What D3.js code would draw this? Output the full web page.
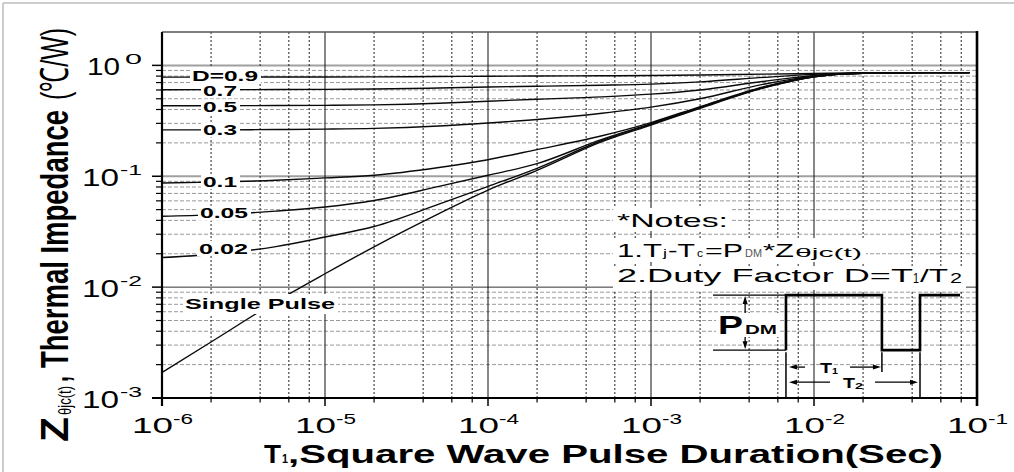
<!DOCTYPE html>
<html><head><meta charset="utf-8">
<script src="https://cdn.jsdelivr.net/npm/d3@7"></script>
<style>html,body{margin:0;padding:0;background:#fff;}svg{display:block;}</style>
</head><body>
<svg id="c" width="1014" height="472"></svg>
<script>
// ---- data ----
const pulseTimes = [1e-6,2e-6,5e-6,1e-5,2e-5,5e-5,1e-4,2e-4,5e-4,1e-3,2e-3,5e-3,1e-2,2e-2,5e-2,9e-2];
const zD09 = [0.784,0.784,0.785,0.786,0.788,0.793,0.798,0.802,0.806,0.810,0.818,0.834,0.845,0.856,0.860,0.860];
const zD07 = [0.603,0.604,0.605,0.607,0.612,0.625,0.638,0.648,0.662,0.678,0.710,0.780,0.830,0.856,0.860,0.860];
const zD05 = [0.432,0.433,0.434,0.436,0.440,0.455,0.475,0.495,0.520,0.550,0.600,0.720,0.810,0.855,0.860,0.860];
const zD03 = [0.262,0.262,0.264,0.266,0.270,0.284,0.302,0.325,0.370,0.420,0.500,0.680,0.800,0.855,0.860,0.860];
const zD01 = [0.0870,0.0885,0.0920,0.0966,0.102,0.120,0.141,0.174,0.232,0.305,0.425,0.645,0.795,0.850,0.860,0.860];
const zD005 = [0.0436,0.0448,0.0485,0.0528,0.0605,0.081,0.102,0.130,0.215,0.298,0.418,0.640,0.790,0.850,0.860,0.860];
const zD002 = [0.0185,0.0197,0.0232,0.0283,0.0352,0.056,0.081,0.118,0.210,0.295,0.415,0.635,0.790,0.850,0.860,0.860];
const zSingle = [0.0017,0.0032,0.0074,0.0132,0.0231,0.046,0.075,0.113,0.205,0.290,0.410,0.630,0.790,0.850,0.860,0.860];
const seriesNames = ["D=0.9","0.7","0.5","0.3","0.1","0.05","0.02","Single Pulse"];
const xMajorTicks = [1e-6,1e-5,1e-4,1e-3,1e-2,1e-1];
const xTickExp = ["-6","-5","-4","-3","-2","-1"];
const yMajorTicks = [1e-3,1e-2,1e-1,1];
const yTickExp = ["-3","-2","-1","0"];

const FONT = "'Liberation Sans', Arial, Helvetica, sans-serif";
const svg = d3.select("#c");
const x = d3.scaleLog().domain([1e-6, 1e-1]).range([162, 977]);
const y = d3.scaleLog().domain([1e-3, 2]).range([398, 32]);

// outer image frame (top & left visible)
svg.append("line").attr("x1",3).attr("x2",1014).attr("y1",3).attr("y2",3).attr("stroke","#bdbdbd").attr("stroke-width",1.5);
svg.append("line").attr("x1",3).attr("x2",3).attr("y1",3).attr("y2",472).attr("stroke","#bdbdbd").attr("stroke-width",1.5);

// minor tick values
const xMinor = [], yMinor = [];
xMajorTicks.slice(0,-1).forEach(d => [2,4,6,8].forEach(m => xMinor.push(d*m)));
yMajorTicks.slice(0,-1).forEach(d => [2,3,4,5,6,7,8,9].forEach(m => yMinor.push(d*m)));

const grid = svg.append("g");
grid.selectAll(".hm").data(yMinor).join("line")
  .attr("x1",162).attr("x2",977).attr("y1",d=>y(d)).attr("y2",d=>y(d))
  .attr("stroke","#9a9a9a").attr("stroke-width",1).attr("stroke-dasharray","4,2");
grid.selectAll(".hM").data([1e-2,1e-1,1]).join("line")
  .attr("x1",162).attr("x2",977).attr("y1",d=>y(d)).attr("y2",d=>y(d))
  .attr("stroke",d=>d===1e-2?"#333":"#a0a0a0").attr("stroke-width",d=>d===1e-2?1:2);
grid.selectAll(".vm").data(xMinor).join("line")
  .attr("x1",d=>x(d)).attr("x2",d=>x(d)).attr("y1",32).attr("y2",398)
  .attr("stroke","#222").attr("stroke-width",1).attr("stroke-dasharray","2,2");
grid.selectAll(".vM").data(xMajorTicks.slice(1,-1)).join("line")
  .attr("x1",d=>x(d)).attr("x2",d=>x(d)).attr("y1",32).attr("y2",398)
  .attr("stroke","#111").attr("stroke-width",1);

// curves
const allSeries = [zD09,zD07,zD05,zD03,zD01,zD005,zD002,zSingle];
const line = d3.line().x(d=>x(d[0])).y(d=>y(d[1])).curve(d3.curveMonotoneX);
svg.append("g").selectAll("path").data(allSeries).join("path")
  .attr("d", s => line(pulseTimes.map((t,i)=>[t,s[i]])))
  .attr("fill","none").attr("stroke","#0a0a0a").attr("stroke-width",1.4);

function txt(g, s, x0, x1, base, fs, weight, fill){
  return g.append("text").attr("x",x0).attr("y",base).text(s)
    .attr("font-family",FONT).attr("font-size",fs).attr("font-weight",weight||"normal")
    .attr("fill",fill||"#000")
    .attr("textLength",x1-x0).attr("lengthAdjust","spacingAndGlyphs");
}
function box(g,x0,y0,x1,y1){ g.append("rect").attr("x",x0).attr("y",y0).attr("width",x1-x0).attr("height",y1-y0).attr("fill","#fff"); }

// curve labels
const lab = svg.append("g");
const labPos = [[192,258,75.5],[203,237,90.7],[203,237,107],[203,237,130],[203,237,181.7],[200,248,213.3],[199,248,248.5],[185,335,304]];
labPos.forEach((p,i)=>{
  const pad = i===7 ? [2,10,10] : [2,7.5,7.5];
  box(lab, p[0]-pad[0], p[2]-pad[1], p[1]+3, p[2]+pad[2]);
  txt(lab, seriesNames[i], p[0], p[1], p[2]+5, i===7?15:14, "bold");
});

// notes
const nt = svg.append("g");
box(nt, 613, 208, 732, 231);
box(nt, 613, 238, 866, 262);
box(nt, 613, 266, 966, 290);
txt(nt,"*Notes:",617,728,227,19);
[["1.T",617,662,19],["j",663,667,11],["-T",668,695,19],["c",697,703,11],["=P",705,743,19],["DM",745,762,11,"#555"],["*Z",763,794,19],["θjc(t)",795,862,12]]
  .forEach(p=>txt(nt,p[0],p[1],p[2],257,p[3],"normal",p[4]));
[["2.Duty Factor D=T",617,913,19,282],["1",913,919,14,283],["/T",920,948,19,282],["2",950,962,14,283]]
  .forEach(p=>txt(nt,p[0],p[1],p[2],p[4],p[3]));

// pulse diagram (annotation positioned in data space)
const pT = {a:2.4e-3, arrow:3.78e-3, r1:6.73e-3, f1:0.0261, r2:0.0447, end:0.0787};
const pHi = 0.00847, pLo = 0.0027, t1Row = 0.0019, t2Row = 0.00139;
const pd = svg.append("g").attr("stroke","#000").attr("fill","none");
pd.append("line").attr("x1",x(pT.a)).attr("x2",x(pT.r1)).attr("y1",y(pHi)).attr("y2",y(pHi)).attr("stroke-width",1.2);
pd.append("line").attr("x1",x(pT.a)).attr("x2",x(pT.r1)).attr("y1",y(pLo)).attr("y2",y(pLo)).attr("stroke-width",1.2);
pd.append("path").attr("stroke-width",2.6).attr("d",
  `M${x(pT.r1)},${y(pLo)}V${y(pHi)}H${x(pT.f1)}V${y(pLo)}H${x(pT.r2)}V${y(pHi)}H${x(pT.end)}`);
pd.append("line").attr("x1",x(pT.r1)).attr("x2",x(pT.r1)).attr("y1",y(pLo)+2).attr("y2",398).attr("stroke-width",1.5);
pd.append("line").attr("x1",x(pT.f1)).attr("x2",x(pT.f1)).attr("y1",y(pLo)+2).attr("y2",y(t1Row)+5).attr("stroke-width",1.5);
pd.append("line").attr("x1",x(pT.r2)).attr("x2",x(pT.r2)).attr("y1",y(pLo)+2).attr("y2",398).attr("stroke-width",1.5);
function arrow(xs, xe, yy){
  const dir = Math.sign(xe-xs);
  pd.append("line").attr("x1",xs).attr("x2",xe-dir*6).attr("y1",yy).attr("y2",yy).attr("stroke-width",1.3);
  pd.append("path").attr("fill","#000").attr("stroke","none")
    .attr("d",`M${xe},${yy}L${xe-dir*8},${yy-2.5}L${xe-dir*8},${yy+2.5}Z`);
}
function varrow(yy0, yy1, xx){
  const dir = Math.sign(yy1-yy0);
  pd.append("line").attr("x1",xx).attr("x2",xx).attr("y1",yy0).attr("y2",yy1-dir*6).attr("stroke-width",1.3);
  pd.append("path").attr("fill","#000").attr("stroke","none")
    .attr("d",`M${xx},${yy1}L${xx-2.5},${yy1-dir*8}L${xx+2.5},${yy1-dir*8}Z`);
}
const xr1 = x(pT.r1)+3, xf1 = x(pT.f1)-1, xr2 = x(pT.r2)-2;
arrow(805, xr1, y(t1Row)); arrow(850, xf1, y(t1Row));
arrow(830, xr1, y(t2Row)); arrow(875, xr2, y(t2Row));
varrow(313, y(pHi)+1, x(pT.arrow)); varrow(337, y(pLo)-1, x(pT.arrow));
const pdt = svg.append("g");
box(pdt, 716, 313, 779, 337);
txt(pdt,"P",718,743,334,25,"bold");
txt(pdt,"DM",745,777,334,13,"bold");
txt(pdt,"T",820,832,373,14,"bold"); txt(pdt,"1",832,838,374,9,"bold");
txt(pdt,"T",843,855,388,14,"bold"); txt(pdt,"2",855,863,389,9,"bold");

// axes ticks
const ax = svg.append("g").attr("stroke","#000");
ax.selectAll(".yt").data(yMajorTicks).join("line").attr("x1",152).attr("x2",162).attr("y1",d=>y(d)).attr("y2",d=>y(d)).attr("stroke-width",1.5);
ax.selectAll(".ytm").data(yMinor).join("line").attr("x1",156).attr("x2",162).attr("y1",d=>y(d)).attr("y2",d=>y(d)).attr("stroke-width",1.2);
ax.selectAll(".xt").data(xMajorTicks).join("line").attr("x1",d=>x(d)).attr("x2",d=>x(d)).attr("y1",398).attr("y2",406).attr("stroke-width",1.5);
ax.selectAll(".xtm").data(xMinor).join("line").attr("x1",d=>x(d)).attr("x2",d=>x(d)).attr("y1",398).attr("y2",402.5).attr("stroke-width",1.2);
ax.append("line").attr("x1",162).attr("x2",977).attr("y1",32).attr("y2",32).attr("stroke","#555").attr("stroke-width",1.5);
ax.append("line").attr("x1",977).attr("x2",977).attr("y1",31).attr("y2",406).attr("stroke-width",2.6);
ax.append("line").attr("x1",162).attr("x2",162).attr("y1",32).attr("y2",406).attr("stroke-width",2.2);
ax.append("line").attr("x1",152).attr("x2",978).attr("y1",398).attr("y2",398).attr("stroke-width",2.2);

// tick labels
const tl = svg.append("g");
xMajorTicks.forEach((t,i)=>{
  const cx = x(t);
  txt(tl,"10",cx-30,cx+11,433,22);
  txt(tl,xTickExp[i],cx+11,cx+31,424,14);
});
yMajorTicks.forEach((t,i)=>{
  const cy = y(t);
  const one = yTickExp[i].length===1;
  txt(tl,"10", one?87:82, one?120:119, cy+10, 23);
  txt(tl,yTickExp[i], one?125:120, 142, cy-1.5, 14);
});

// axis titles
txt(tl,"T",264,281,463,26,"bold");
txt(tl,"1",282,288,463,13,"bold");
txt(tl,",Square Wave Pulse Duration(Sec)",288,943,463,26,"bold");
function rtxt(s, yb, yt, bx, fs, weight, sx){
  tl.append("text").attr("transform",`translate(${bx},${yb}) scale(${sx},1) rotate(-90)`)
    .attr("x",0).attr("y",0).text(s).attr("font-family",FONT).attr("font-size",fs)
    .attr("font-weight",weight).attr("textLength",yb-yt).attr("lengthAdjust","spacingAndGlyphs");
}
rtxt("Z",442,417,68,30,"bold",1.3);
rtxt("θjc(t)",415,386,71,14,"normal",1.3);
rtxt(",",382,376,68,30,"bold",1.3);
rtxt("Thermal Impedance",368,110,68,30,"bold",1.3);
rtxt("(℃/W)",100,28,68,30,"normal",1.3);
</script>
</body></html>
